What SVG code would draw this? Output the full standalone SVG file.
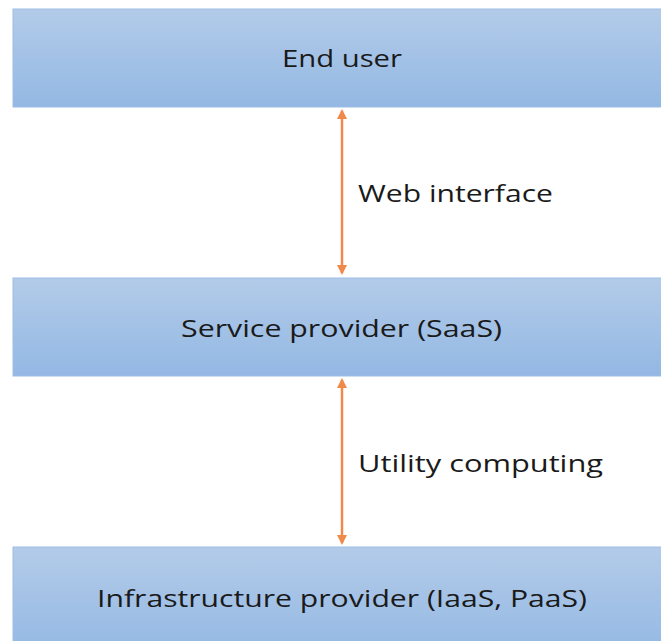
<svg xmlns="http://www.w3.org/2000/svg" width="661" height="641" viewBox="0 0 661 641">
<style>
.box{fill:url(#g);stroke:#9dbde6;stroke-width:1}
.t{font-family:"Open Sans","Liberation Sans",sans-serif;font-size:23.5px;fill:#1a1a1a}
.c{stroke:#f08a4b;stroke-width:2.5;fill:none;marker-start:url(#a);marker-end:url(#a)}
</style>
<defs>
<linearGradient id="g" x1="0" y1="0" x2="0" y2="1">
<stop offset="0" stop-color="#b3cbe9"/>
<stop offset="1" stop-color="#93b8e3"/>
</linearGradient>
<marker id="a" viewBox="0 0 10 10" refX="8" refY="5" markerWidth="4" markerHeight="4" orient="auto-start-reverse" markerUnits="strokeWidth">
<path d="M0,0 L10,5 L0,10 z" fill="#f08a4b"/>
</marker>
</defs>
<rect width="661" height="641" fill="#ffffff"/>
<g id="end-user">
<rect class="box" x="13" y="9" width="660" height="98"/>
<text class="t" x="282" y="67" textLength="120" lengthAdjust="spacingAndGlyphs">End user</text>
</g>
<g id="service-provider">
<rect class="box" x="13" y="278" width="660" height="98"/>
<text class="t" x="181" y="337" textLength="321" lengthAdjust="spacingAndGlyphs">Service provider (SaaS)</text>
</g>
<g id="infrastructure-provider">
<rect class="box" x="13" y="547" width="660" height="110"/>
<text class="t" x="97" y="607" textLength="490" lengthAdjust="spacingAndGlyphs">Infrastructure provider (IaaS, PaaS)</text>
</g>
<g id="connectors">
<line class="c" x1="342" y1="111" x2="342" y2="273"/>
<line class="c" x1="342" y1="380" x2="342" y2="543"/>
<text class="t" x="358" y="202" textLength="195" lengthAdjust="spacingAndGlyphs">Web interface</text>
<text class="t" x="358" y="472" textLength="245" lengthAdjust="spacingAndGlyphs">Utility computing</text>
</g>
</svg>
